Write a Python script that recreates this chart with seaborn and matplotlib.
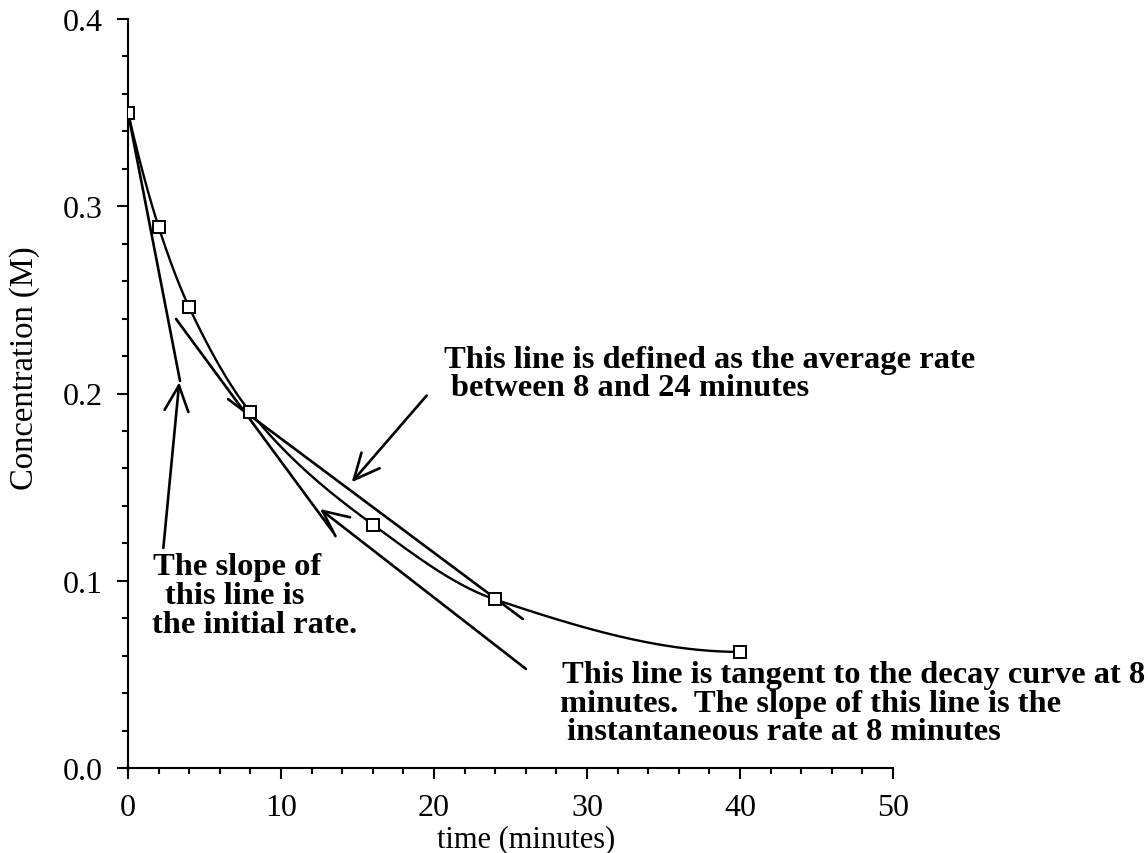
import numpy as np
import pandas as pd
import matplotlib
matplotlib.use("Agg")
import matplotlib.pyplot as plt
from matplotlib.ticker import MultipleLocator, FormatStrFormatter
from matplotlib.patches import FancyArrowPatch
import seaborn as sns

# ---------------- data ----------------
time_min = [0, 2, 4, 8, 16, 24, 40]
conc_M = [0.35, 0.289, 0.246, 0.19, 0.13, 0.09, 0.062]

# annotation lines (data coordinates: time, concentration)
initial_rate_t = [0.0, 3.40]
initial_rate_c = [0.350, 0.2067]
tangent8_t = [3.14, 13.40]
tangent8_c = [0.2398, 0.1260]
average_t = [6.54, 25.80]
average_c = [0.1970, 0.0796]

# arrows: (tail_t, tail_c, tip_t, tip_c)
arrow_avg = (19.52, 0.1989, 14.62, 0.1526)
arrow_init = (2.31, 0.1175, 3.35, 0.2060)
arrow_tan = (26.01, 0.0529, 12.55, 0.1383)

x_ticks = [0, 10, 20, 30, 40, 50]
y_ticks = [0.0, 0.1, 0.2, 0.3, 0.4]

label_avg = ["This line is defined as the average rate",
             "between 8 and 24 minutes"]
label_init = ["The slope of", "this line is", "the initial rate."]
label_tan = ["This line is tangent to the decay curve at 8",
             "minutes.  The slope of this line is the",
             "instantaneous rate at 8 minutes"]


def pchip(x, y, xs):
    x = np.asarray(x, float)
    y = np.asarray(y, float)
    n = len(x)
    h = np.diff(x)
    delta = np.diff(y) / h
    d = np.zeros(n)
    for k in range(1, n - 1):
        if delta[k - 1] * delta[k] > 0:
            w1 = 2 * h[k] + h[k - 1]
            w2 = h[k] + 2 * h[k - 1]
            d[k] = (w1 + w2) / (w1 / delta[k - 1] + w2 / delta[k])

    def end(h0, h1, d0, d1):
        s = ((2 * h0 + h1) * d0 - h0 * d1) / (h0 + h1)
        if np.sign(s) != np.sign(d0):
            s = 0.0
        elif np.sign(d0) != np.sign(d1) and abs(s) > abs(3 * d0):
            s = 3 * d0
        return s
    d[0] = end(h[0], h[1], delta[0], delta[1])
    d[-1] = end(h[-1], h[-2], delta[-1], delta[-2])
    out = np.empty_like(xs)
    idx = np.clip(np.searchsorted(x, xs) - 1, 0, n - 2)
    for i, xv in enumerate(xs):
        k = idx[i]
        t = (xv - x[k]) / h[k]
        h00 = 2 * t**3 - 3 * t**2 + 1
        h10 = t**3 - 2 * t**2 + t
        h01 = -2 * t**3 + 3 * t**2
        h11 = t**3 - t**2
        out[i] = h00 * y[k] + h10 * h[k] * d[k] + h01 * y[k + 1] + h11 * h[k] * d[k + 1]
    return out


# ---------------- style ----------------
sns.set_theme(style="ticks")
plt.rcParams['font.family'] = ['Liberation Serif', 'DejaVu Serif']
plt.rcParams['axes.linewidth'] = 1.5

W, H = 1148, 854
fig = plt.figure(figsize=(W / 100, H / 100), dpi=100)
ax = fig.add_axes([128 / W, 1 - 769 / H, (893 - 128) / W, (769 - 20) / H])

# smooth decay curve through the measured points
ts = np.linspace(time_min[0], time_min[-1], 400)
curve = pd.DataFrame({"t": ts, "c": pchip(time_min, conc_M, ts)})
sns.lineplot(data=curve, x="t", y="c", ax=ax, color="black", lw=1.7, sort=False)

# straight construction lines
lw_line = 1.9
sns.lineplot(x=initial_rate_t, y=initial_rate_c, ax=ax, color="black", lw=lw_line)
sns.lineplot(x=tangent8_t, y=tangent8_c, ax=ax, color="black", lw=lw_line)
sns.lineplot(x=average_t, y=average_c, ax=ax, color="black", lw=lw_line)

# data markers
sns.lineplot(x=time_min, y=conc_M, ax=ax, linestyle="", marker="s",
             markersize=8.2, markerfacecolor="white", markeredgecolor="black",
             markeredgewidth=1.4, color="black", zorder=5)

# arrows
for (t0, c0, t1, c1) in (arrow_avg, arrow_init, arrow_tan):
    arr = FancyArrowPatch((t0, c0), (t1, c1),
                          arrowstyle="->,head_length=18.5,head_width=8.6",
                          mutation_scale=1, shrinkA=0, shrinkB=0,
                          lw=1.9, color="black", clip_on=False, zorder=4)
    ax.add_patch(arr)

# axes
ax.set_xlim(0, 50)
ax.set_ylim(0, 0.4)
ax.set_xticks(x_ticks)
ax.set_yticks(y_ticks)
ax.xaxis.set_minor_locator(MultipleLocator(2))
ax.yaxis.set_minor_locator(MultipleLocator(0.02))
ax.yaxis.set_major_formatter(FormatStrFormatter('%.1f'))
ax.xaxis.set_major_formatter(FormatStrFormatter('%d'))
ax.tick_params(which="major", direction="out", length=8, width=1.5,
               labelsize=23, pad=10, color="black", labelcolor="black")
ax.tick_params(which="minor", direction="out", length=4.5, width=1.5, color="black")
sns.despine(ax=ax)
ax.spines['left'].set_color('black')
ax.spines['bottom'].set_color('black')
ax.set_xlabel("")
ax.set_ylabel("")

def ftxt(px, py, s, **kw):
    fig.text(px / W, 1 - py / H, s, **kw)

# axis titles
ftxt(25, 368, "Concentration (M)", rotation=90, ha="center", va="center",
     fontsize=23.5, color="black")
ftxt(526, 847, "time (minutes)", ha="center", va="baseline",
     fontsize=22, color="black")

# annotation texts
bold = dict(fontsize=23.4, fontweight="bold", va="baseline", ha="left", color="black")
for (px, py), s in zip([(444, 368), (451, 396.5)], label_avg):
    ftxt(px, py, s, **bold)
for (px, py), s in zip([(153, 575), (165, 604), (152, 633)], label_init):
    ftxt(px, py, s, **bold)
for (px, py), s in zip([(562, 683), (560, 712), (567, 740)], label_tan):
    ftxt(px, py, s, **bold)

fig.savefig("out.png", dpi=100, facecolor="white")
